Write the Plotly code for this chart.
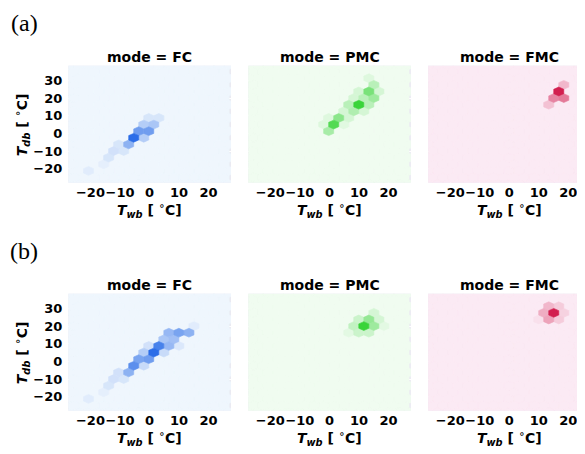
import plotly.graph_objects as go

# ---------------- data: hexbin cell centres (Twb, Tdb in °C) and counts ----------------
FC_A_TWB = [-0.25, 3.15, -1.95, 1.45, -3.65, -0.25, -5.35, -1.95, -7.05, -10.45, -12.15, -8.75, -13.85, -15.55, -20.65]
FC_A_TDB = [8.8, 8.8, 5.05, 5.05, 1.3, 1.3, -2.45, -2.45, -6.2, -6.2, -9.95, -9.95, -13.7, -17.45, -21.2]
FC_A_CNT = [12, 12, 30, 35, 65, 65, 100, 30, 50, 12, 15, 12, 12, 5, 7]

PMC_A_TWB = [13.35, 15.05, 9.95, 13.35, 16.75, 8.25, 11.65, 15.05, 9.95, 6.55, 13.35, 4.85, 8.25, 11.65, 3.15, 6.55, -0.25, 1.45, 4.85, -1.95, -0.25]
PMC_A_TDB = [31.3, 27.55, 23.8, 23.8, 23.8, 20.05, 20.05, 20.05, 16.3, 16.3, 16.3, 12.55, 12.55, 12.55, 8.8, 8.8, 8.8, 5.05, 5.05, 5.05, 1.3]
PMC_A_CNT = [10, 30, 15, 65, 15, 15, 30, 45, 100, 30, 30, 15, 35, 15, 55, 15, 10, 85, 8, 10, 40]

FMC_A_TWB = [18.45, 16.75, 15.05, 18.45, 13.35]
FMC_A_TDB = [27.55, 23.8, 20.05, 20.05, 16.3]
FMC_A_CNT = [25, 100, 50, 55, 20]

FC_B_TWB = [15.05, 6.55, 9.95, 13.35, 4.85, 8.25, -0.25, 3.15, 6.55, 9.95, -1.95, 1.45, 4.85, -3.65, -0.25, -5.35, -1.95, -7.05, -10.45, -8.75, -12.15, -13.85, -15.55, -20.65]
FC_B_TDB = [20.05, 16.3, 16.3, 16.3, 12.55, 12.55, 8.8, 8.8, 8.8, 8.8, 5.05, 5.05, 5.05, 1.3, 1.3, -2.45, -2.45, -6.2, -6.2, -9.95, -9.95, -13.7, -17.45, -21.2]
FC_B_CNT = [7, 45, 60, 50, 35, 40, 15, 85, 45, 10, 30, 100, 20, 60, 65, 75, 20, 50, 15, 12, 15, 12, 5, 7]

PMC_B_TWB = [15.05, 9.95, 13.35, 16.75, 8.25, 11.65, 15.05, 18.45, 6.55, 9.95, 13.35]
PMC_B_TDB = [27.55, 23.8, 23.8, 23.8, 20.05, 20.05, 20.05, 20.05, 16.3, 16.3, 16.3]
PMC_B_CNT = [15, 20, 50, 15, 25, 100, 45, 7, 7, 20, 20]

FMC_B_TWB = [11.65, 15.05, 18.45, 13.35, 16.75, 13.35, 16.75, 9.95]
FMC_B_TDB = [27.55, 27.55, 27.55, 31.3, 31.3, 23.8, 23.8, 23.8]
FMC_B_CNT = [30, 100, 12, 25, 15, 35, 15, 5]

MODES = ["FC", "PMC", "FMC"]
ROW_TAGS = ["(a)", "(b)"]
X_TICKS = [-20, -10, 0, 10, 20]
X_TICK_TEXT = ["\u221220", "\u221210", "0", "10", "20"]
Y_TICKS = [-20, -10, 0, 10, 20, 30]
Y_TICK_TEXT = ["\u221220", "\u221210", "0", "10", "20", "30"]

# ---------------- styling ----------------
WIN_W, WIN_H = 585, 454
PAGE_MARGIN = 8  # default body margin of the html page
W, H = WIN_W - PAGE_MARGIN, WIN_H - PAGE_MARGIN
BG = "#EAEAF2"
CMAPS = {
    "FC": ((239, 246, 253), (43, 109, 232)),
    "PMC": ((240, 252, 240), (57, 212, 57)),
    "FMC": ((251, 234, 244), (210, 31, 79)),
}
# hex lattice geometry (matplotlib-style hexbin, pointy-top)
X0, Y0, SX, SY, NX, NY = -27.45, -28.7, 3.4, 7.5, 16, 9
X_RANGE = (-27.5, 27.6)
Y_RANGE = (-27.9, 38.4)
COL_LEFT = [68.3, 248.2, 428.1]
PANEL_W = 162.7
ROW_TOP = [65.7, 293.7]
PANEL_H = 117.0
FONT = "DejaVu Sans"


def mix(cm, v):
    lo, hi = cm
    return "rgb(%d,%d,%d)" % tuple(round(l + (h - l) * v) for l, h in zip(lo, hi))


def hex_xy(cx, cy):
    dx = [0.5, 0.5, 0.0, -0.5, -0.5, 0.0, 0.5]
    dy = [-0.5, 0.5, 1.0, 0.5, -0.5, -1.0, -0.5]
    return [cx + SX * a for a in dx], [cy + SY / 3 * b for b in dy]


lattice = [(X0 + i * SX, Y0 + j * SY) for i in range(NX + 1) for j in range(NY + 1)]
lattice += [(X0 + (i + 0.5) * SX, Y0 + (j + 0.5) * SY) for i in range(NX) for j in range(NY)]

DATA = [
    [(FC_A_TWB, FC_A_TDB, FC_A_CNT), (PMC_A_TWB, PMC_A_TDB, PMC_A_CNT), (FMC_A_TWB, FMC_A_TDB, FMC_A_CNT)],
    [(FC_B_TWB, FC_B_TDB, FC_B_CNT), (PMC_B_TWB, PMC_B_TDB, PMC_B_CNT), (FMC_B_TWB, FMC_B_TDB, FMC_B_CNT)],
]

fig = go.Figure()
layout = {}
annotations = []


def px(x):
    return (x - PAGE_MARGIN) / W


def py(y):
    return 1 - (y - PAGE_MARGIN) / H


k = 0
for r in range(2):
    for c in range(3):
        k += 1
        xa = "x" if k == 1 else "x%d" % k
        ya = "y" if k == 1 else "y%d" % k
        cm = CMAPS[MODES[c]]
        left = COL_LEFT[c]
        right = min(left + PANEL_W, WIN_W)
        xr1 = X_RANGE[0] + (right - left) / PANEL_W * (X_RANGE[1] - X_RANGE[0])
        top = ROW_TOP[r]
        bot = top + PANEL_H

        # empty cells
        bx, by = [], []
        for (cx, cy) in lattice:
            hx, hy = hex_xy(cx, cy)
            bx += hx + [None]
            by += hy + [None]
        c0 = mix(cm, 0.0)
        fig.add_trace(go.Scatter(x=bx, y=by, mode="lines", fill="toself", fillcolor=c0,
                                 line=dict(color=c0, width=0.6), hoverinfo="skip",
                                 showlegend=False, xaxis=xa, yaxis=ya))
        twb, tdb, cnt = DATA[r][c]
        mx = max(cnt)
        for x, y, n in sorted(zip(twb, tdb, cnt), key=lambda t: t[2]):
            hx, hy = hex_xy(x, y)
            col = mix(cm, n / mx)
            fig.add_trace(go.Scatter(x=hx, y=hy, mode="lines", fill="toself", fillcolor=col,
                                     line=dict(color=col, width=0.6), hoverinfo="skip",
                                     showlegend=False, xaxis=xa, yaxis=ya))

        xkey = "xaxis" if k == 1 else "xaxis%d" % k
        ykey = "yaxis" if k == 1 else "yaxis%d" % k
        layout[xkey] = dict(domain=[px(left), min(px(right), 1.0)], range=[X_RANGE[0], xr1], anchor=ya,
                            tickvals=X_TICKS, ticktext=X_TICK_TEXT, showgrid=True,
                            gridcolor="white", gridwidth=1, zeroline=False, showline=False,
                            ticks="", ticklabelstandoff=0, tickangle=0, automargin=False,
                            tickfont=dict(family=FONT, size=13, color="black", weight="bold"))
        layout[ykey] = dict(domain=[py(bot), py(top)], range=list(Y_RANGE), anchor=xa,
                            tickvals=Y_TICKS, ticktext=Y_TICK_TEXT, showgrid=True,
                            gridcolor="white", gridwidth=1, zeroline=False, showline=False,
                            ticks="", ticklabelstandoff=5, showticklabels=(c == 0),
                            automargin=False,
                            tickfont=dict(family=FONT, size=13, color="black", weight="bold"))

        cx_full = left + PANEL_W / 2
        annotations.append(dict(text="<b>mode = %s</b>" % MODES[c], x=px(cx_full), y=py(top - 9),
                                xref="paper", yref="paper", showarrow=False, xanchor="center",
                                yanchor="middle", font=dict(family=FONT, size=14, color="black")))
        annotations.append(dict(text="<b><i>T</i><sub><i>wb</i></sub> [ <sup>\u2218</sup>C]</b>",
                                x=px(cx_full), y=py(bot + 27), xref="paper", yref="paper",
                                showarrow=False, xanchor="center", yanchor="middle",
                                font=dict(family=FONT, size=14, color="black")))
        if c == 0:
            annotations.append(dict(text="<b><i>T</i><sub><i>db</i></sub> [ <sup>\u2218</sup>C]</b>",
                                    x=px(22), y=py(top + PANEL_H / 2 + 1), xref="paper", yref="paper",
                                    showarrow=False, xanchor="center", yanchor="middle", textangle=-90,
                                    font=dict(family=FONT, size=14, color="black")))
    annotations.append(dict(text=ROW_TAGS[r], x=px(24), y=py(ROW_TOP[r] - 43), xref="paper",
                            yref="paper", showarrow=False, xanchor="center", yanchor="middle",
                            borderpad=0, font=dict(family="Liberation Serif", size=24, color="black")))

fig.update_layout(width=W, height=H, margin=dict(l=0, r=0, t=0, b=0, autoexpand=False),
                  plot_bgcolor=BG, paper_bgcolor="white", annotations=annotations, **layout)
fig.write_html("out.html")
